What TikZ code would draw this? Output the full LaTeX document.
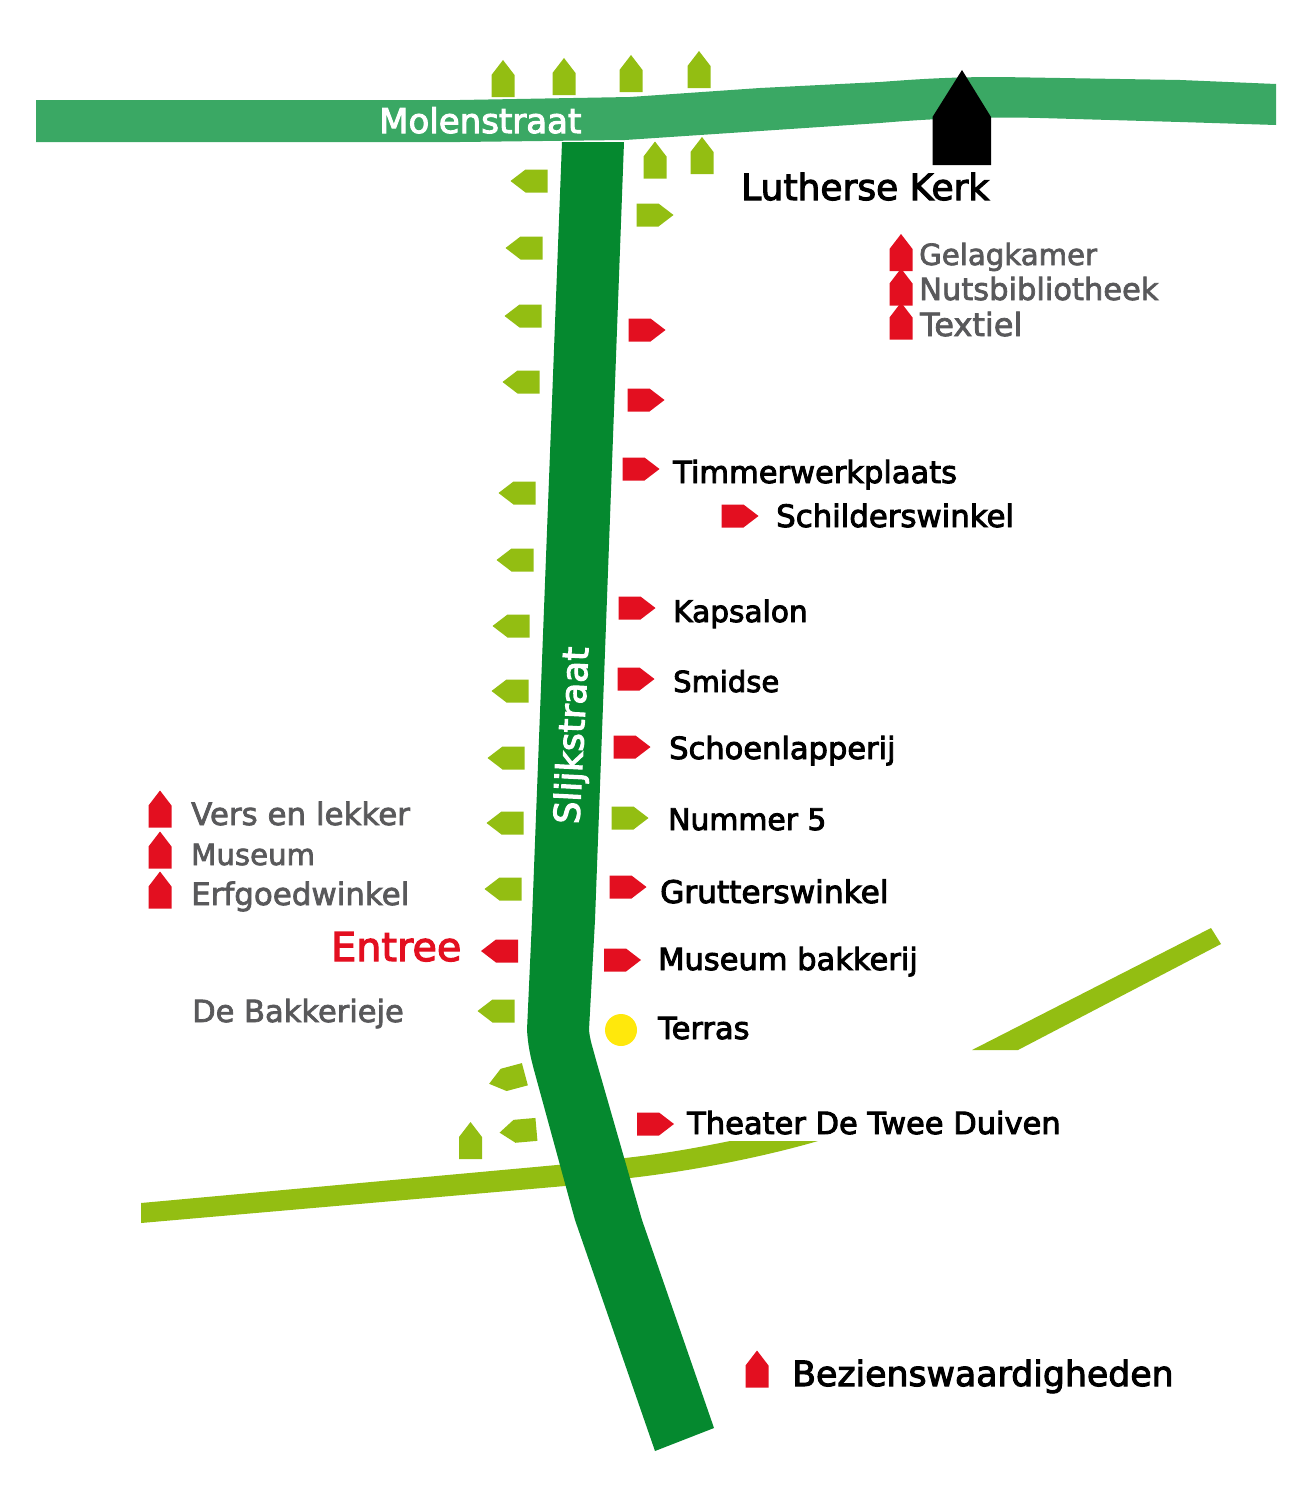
\documentclass[tikz,border=0pt]{standalone}
\usepackage{fontspec}
\setmainfont{DejaVu Sans}
\newfontfamily\lab[FakeBold=3]{DejaVu Sans}
\newfontfamily\labg[FakeBold=2.4]{DejaVu Sans}
\definecolor{roaddark}{HTML}{05892F}
\definecolor{roadmid}{HTML}{3AA864}
\definecolor{roadlight}{HTML}{93BE12}
\definecolor{hred}{HTML}{E30F20}
\definecolor{hyel}{HTML}{FFE80C}
\definecolor{tgrey}{HTML}{59595B}
\newcommand{\fsz}[1]{\fontsize{#1}{#1}\selectfont}
\tikzset{
  blk/.style={anchor=base west,inner sep=0pt,text=black,font=\lab\fsz{30.5}},
  gry/.style={anchor=base west,inner sep=0pt,text=tgrey,font=\labg\fsz{30.5}},
  wht/.style={inner sep=0pt,text=white,font=\lab\fsz{34}},
  big/.style={blk,font=\lab\fsz{35}}
}
\newcommand{\hs}[4]{\fill[#1,shift={(#2,#3)},rotate=#4] (-11.5,18.5) -- (-11.5,-3.5) -- (0,-18.5) -- (11.5,-3.5) -- (11.5,18.5) -- cycle;}
\begin{document}
\begin{tikzpicture}[x=1pt,y=-1pt]
\useasboundingbox (0,0) rectangle (1314,1504);
% roads
\fill[roadlight] (141,1203) -- (557,1165) -- (625,1158) .. controls (670,1153) and (700,1147) .. (730,1141) -- (818,1141) .. controls (770,1155) and (700,1170) .. (630,1178) -- (565,1186) -- (141,1223) -- cycle;
\fill[roadlight] (972,1050) -- (1211,928) -- (1221,944) -- (1018,1050) -- cycle;
\fill[roadmid] (36,100) -- (460,100) -- (630,97) -- (760,88) -- (880,82) .. controls (920,79) and (950,77) .. (1000,77) -- (1180,80) -- (1276,84) -- (1276,125) -- (1180,122) -- (1040,118) .. controls (1000,117) and (950,117) .. (880,123) -- (760,131) -- (625,140) -- (460,142) -- (36,142) -- cycle;
\fill[roaddark] (562,142) -- (532,920) -- (527,1030) .. controls (528,1045) and (530,1055) .. (534,1070) -- (575,1220) -- (655,1451) -- (714,1428) -- (642,1220) -- (596,1060) .. controls (592,1045) and (590,1040) .. (589,1030) -- (595,920) -- (624,142) -- cycle;
% church
\fill[black] (932.5,165) -- (932.5,117) -- (962,70) -- (991,117) -- (991,165) -- cycle;
% light green houses
\hs{roadlight}{503}{78.5}{0}
\hs{roadlight}{564}{76.5}{0}
\hs{roadlight}{631}{73.5}{0}
\hs{roadlight}{699}{69.5}{0}
\hs{roadlight}{655}{160}{0}
\hs{roadlight}{702}{155.5}{0}
\hs{roadlight}{655}{215}{-90}
\hs{roadlight}{529}{181}{90}
\hs{roadlight}{524}{248}{90}
\hs{roadlight}{523}{316}{90}
\hs{roadlight}{521}{382}{90}
\hs{roadlight}{517}{493}{90}
\hs{roadlight}{515}{560}{90}
\hs{roadlight}{511}{626}{90}
\hs{roadlight}{510}{691}{90}
\hs{roadlight}{506}{758}{90}
\hs{roadlight}{505}{823}{90}
\hs{roadlight}{503}{889}{90}
\hs{roadlight}{496}{1011}{90}
\hs{roadlight}{507}{1079}{105}
\hs{roadlight}{518}{1131}{95}
\hs{roadlight}{470.5}{1140.5}{0}
\hs{roadlight}{630}{818}{-90}
% red houses
\hs{hred}{647}{330}{-90}
\hs{hred}{646}{400}{-90}
\hs{hred}{641}{469}{-90}
\hs{hred}{740}{516}{-90}
\hs{hred}{637}{608}{-90}
\hs{hred}{636}{679}{-90}
\hs{hred}{632}{747}{-90}
\hs{hred}{628}{887}{-90}
\hs{hred}{622.5}{960}{-90}
\hs{hred}{655.5}{1124}{-90}
\hs{hred}{499.5}{951}{90}
\hs{hred}{901}{252.5}{0}
\hs{hred}{901}{287}{0}
\hs{hred}{901}{321}{0}
\hs{hred}{160}{809}{0}
\hs{hred}{160}{850}{0}
\hs{hred}{160}{890}{0}
\hs{hred}{757}{1369}{0}
% terras
\fill[hyel] (621,1030) circle (16);
% labels
\node[wht,anchor=base west] (molen) at (379,133) {Molenstraat};
\node[wht,rotate=87,font=\lab\fsz{35.5}] (slijk) at (574,735.5) {Slijkstraat};
\node[big,font=\lab\fsz{36}] (luth) at (741,200) {Lutherse Kerk};
\node[gry,font=\labg\fsz{29.2}] (gel) at (919,265) {Gelagkamer};
\node[gry] (nuts) at (919,300) {Nutsbibliotheek};
\node[gry,font=\labg\fsz{32}] (tex) at (920,336) {Textiel};
\node[blk] (tim) at (673,483) {Timmerwerkplaats};
\node[blk,font=\lab\fsz{30.8}] (sch) at (776,527) {Schilderswinkel};
\node[blk,font=\lab\fsz{29.6}] (kap) at (673,622) {Kapsalon};
\node[blk,font=\lab\fsz{29}] (smi) at (673,692) {Smidse};
\node[blk] (schoen) at (669,759) {Schoenlapperij};
\node[blk,font=\lab\fsz{29.8}] (num) at (668,830) {Nummer 5};
\node[blk,font=\lab\fsz{31.2}] (gru) at (660,903) {Grutterswinkel};
\node[blk] (mus) at (658,970) {Museum bakkerij};
\node[blk] (ter) at (658,1039) {Terras};
\node[blk] (the) at (687,1134) {Theater De Twee Duiven};
\node[big,font=\lab\fsz{34.7}] (bez) at (792,1386) {Bezienswaardigheden};
\node[gry,font=\labg\fsz{30.9}] (ver) at (191,825) {Vers en lekker};
\node[gry,font=\labg\fsz{29.2}] (mum) at (191,865) {Museum};
\node[gry,font=\labg\fsz{30.9}] (erf) at (191,905) {Erfgoedwinkel};
\node[blk,text=hred,font=\lab\fsz{39.7}] (ent) at (331,961) {Entree};
\node[gry] (bak) at (192,1022) {De Bakkerieje};
\end{tikzpicture}
\end{document}
